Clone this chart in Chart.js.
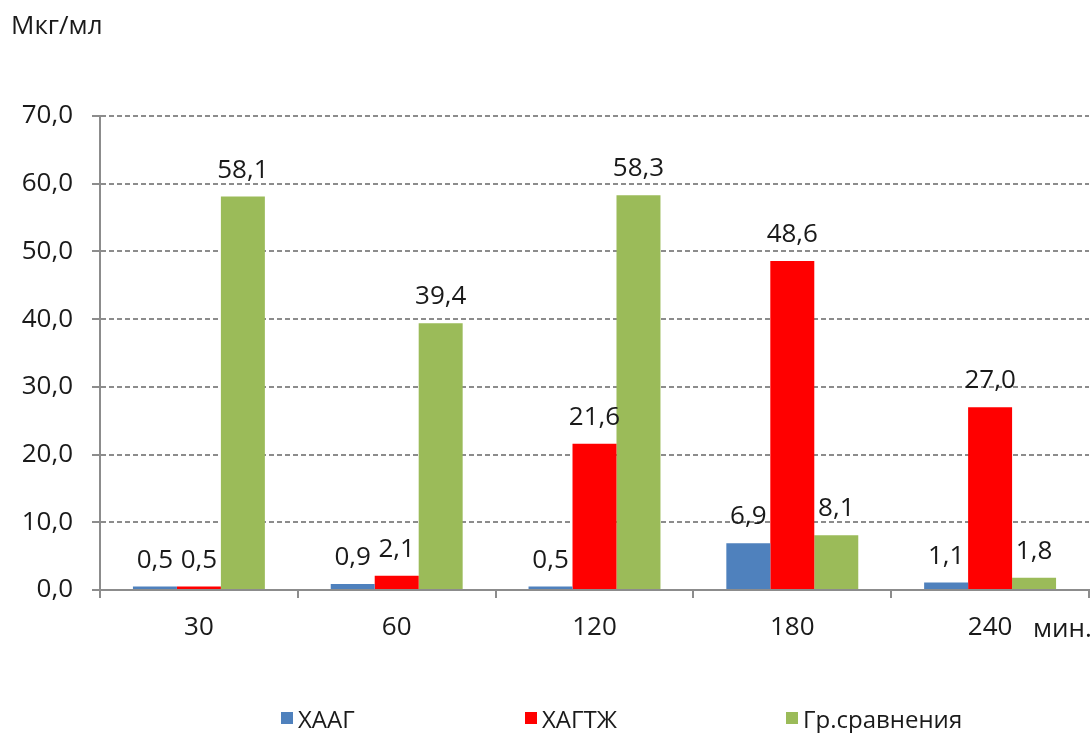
<!DOCTYPE html>
<html lang="ru">
<head>
<meta charset="utf-8">
<title>Концентрация, мкг/мл</title>
<script src="https://cdn.jsdelivr.net/npm/chart.js@4.4.1/dist/chart.umd.min.js"></script>
<style>
    html, body { margin: 0; padding: 0; background: #fff; }
    #wrap { position: relative; width: 1092px; height: 733px; }
</style>
</head>
<body>
<div id="wrap"><canvas id="concChart" width="1092" height="733"></canvas></div>
<script>
// Time points, minutes
const timePoints = ['30', '60', '120', '180', '240'];

// Concentration per group, mcg/ml
const haagValues = [0.5, 0.9, 0.5, 6.9, 1.1];
const hagtzhValues = [0.5, 2.1, 21.6, 48.6, 27.0];
const controlValues = [58.1, 39.4, 58.3, 8.1, 1.8];

const seriesNames = ['ХААГ', 'ХАГТЖ', 'Гр.сравнения'];
const seriesColors = ['#4f81bd', '#ff0000', '#9bbb59'];

const yTicks = [0, 10, 20, 30, 40, 50, 60, 70];

const FONT = '"Open Sans", "Noto Sans", sans-serif';
const AXIS_GREY = '#8c8c8c';
const TEXT_COLOR = '#1a1a1a';

const fmt = (v) => v.toFixed(1).replace('.', ',');

// Value labels above each bar
const valueLabels = {
    id: 'valueLabels',
    afterDatasetsDraw(chart) {
        const ctx = chart.ctx;
        ctx.save();
        ctx.font = `26px ${FONT}`;
        ctx.fillStyle = TEXT_COLOR;
        ctx.textAlign = 'center';
        ctx.textBaseline = 'alphabetic';
        chart.data.datasets.forEach((ds, i) => {
            chart.getDatasetMeta(i).data.forEach((bar, j) => {
                ctx.fillText(fmt(ds.data[j]), bar.x, bar.y - 19);
            });
        });
        ctx.restore();
    },
};

// Axis captions and the legend row at the bottom
const captions = {
    id: 'captions',
    afterDraw(chart) {
        const ctx = chart.ctx;
        ctx.save();
        ctx.fillStyle = TEXT_COLOR;
        ctx.textBaseline = 'alphabetic';
        ctx.textAlign = 'left';
        ctx.font = `26px ${FONT}`;
        ctx.fillText('Мкг/мл', 11, 34);
        ctx.fillText('мин.', 1033, 637);

        const legendX = [281, 525, 786];
        ctx.font = `24px ${FONT}`;
        chart.data.datasets.forEach((ds, i) => {
            ctx.fillStyle = ds.backgroundColor;
            ctx.fillRect(legendX[i], 712, 12, 12);
            ctx.fillStyle = TEXT_COLOR;
            ctx.fillText(ds.label, legendX[i] + 17, 728);
        });
        ctx.restore();
    },
};

const datasets = [haagValues, hagtzhValues, controlValues].map((values, i) => ({
    label: seriesNames[i],
    data: values,
    backgroundColor: seriesColors[i],
    borderWidth: 0,
    categoryPercentage: 0.667,
    barPercentage: 1.0,
}));

new Chart(document.getElementById('concChart').getContext('2d'), {
    type: 'bar',
    data: { labels: timePoints, datasets },
    plugins: [valueLabels, captions],
    options: {
        responsive: false,
        animation: false,
        layout: { padding: { top: 116, right: 3, left: 0, bottom: 0 } },
        plugins: {
            legend: { display: false },
            tooltip: { enabled: false },
        },
        scales: {
            x: {
                afterFit: (scale) => { scale.height = 143; },
                grid: {
                    display: true,
                    drawOnChartArea: false,
                    drawTicks: true,
                    tickLength: 8,
                    color: AXIS_GREY,
                    lineWidth: 2,
                    offset: true,
                },
                border: { display: true, color: AXIS_GREY, width: 2 },
                ticks: {
                    color: TEXT_COLOR,
                    font: { family: FONT, size: 26 },
                    padding: 14,
                    maxRotation: 0,
                },
            },
            y: {
                min: 0,
                max: 70,
                afterFit: (scale) => { scale.width = 100; },
                afterBuildTicks: (scale) => {
                    scale.ticks = yTicks.map((v) => ({ value: v }));
                },
                grid: {
                    color: AXIS_GREY,
                    lineWidth: 2,
                    tickLength: 8,
                    drawTicks: true,
                },
                border: { display: true, color: AXIS_GREY, width: 2, dash: [5, 3] },
                ticks: {
                    color: TEXT_COLOR,
                    font: { family: FONT, size: 26 },
                    padding: 19,
                    callback: (v) => fmt(v),
                },
            },
        },
    },
});
</script>
</body>
</html>
